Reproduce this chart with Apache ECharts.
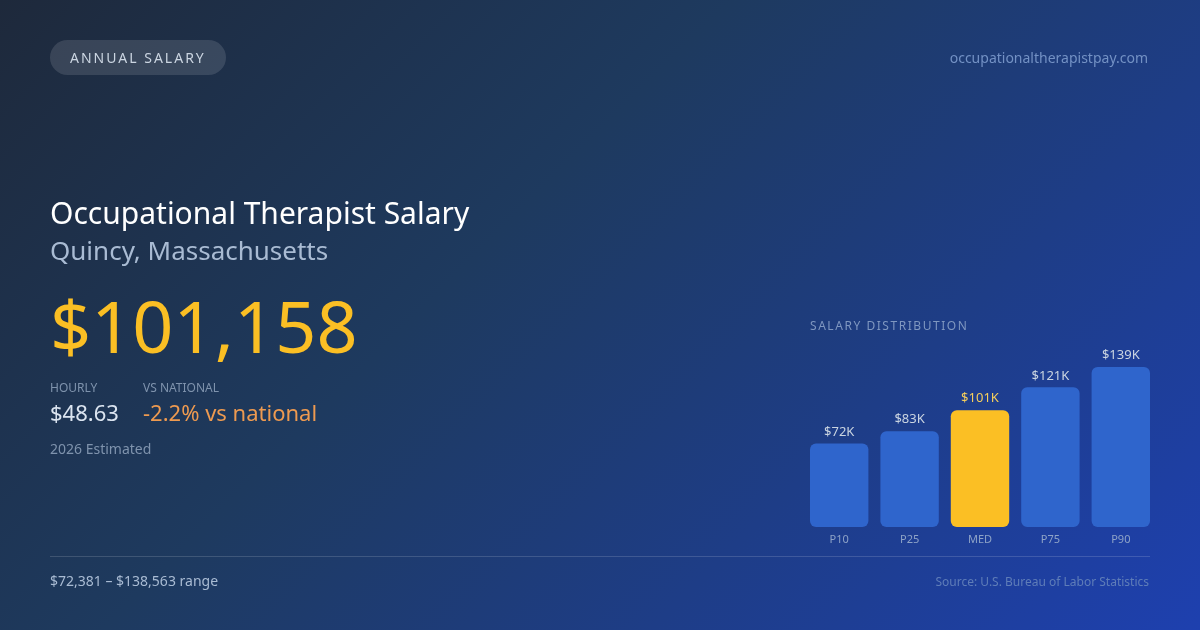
<!DOCTYPE html>
<html>
<head>
<meta charset="utf-8">
<title>Occupational Therapist Salary</title>
<script src="https://cdn.jsdelivr.net/npm/echarts@6/dist/echarts.min.js"></script>
<style>
  html, body { margin: 0; padding: 0; background: #1e3a5f; }
  #card { position: relative; width: 1200px; height: 630px; overflow: hidden; }
  #chart { position: absolute; left: 0; top: 0; width: 1200px; height: 630px; }
  /* canvas text has no letter spacing, so these two stay in the DOM */
  .spaced { position: absolute; font-family: "Noto Sans", sans-serif; white-space: nowrap; }
  #pill-text { left: 70px; top: 48px; font-size: 14px; line-height: 19px; letter-spacing: 2px; color: #cbd5e1; }
  #dist-title { left: 810px; top: 318px; font-size: 12px; line-height: 16px; letter-spacing: 1.55px; color: #7f97c0; }
</style>
</head>
<body>
<div id="card">
  <div id="chart"></div>
  <div id="pill-text" class="spaced">ANNUAL SALARY</div>
  <div id="dist-title" class="spaced">SALARY DISTRIBUTION</div>
</div>
<script>
/* Salary percentiles, in thousands of dollars */
const categories = ['P10', 'P25', 'MED', 'P75', 'P90'];
const salaries = [72.4, 83, 101.2, 121, 138.6];
const medianIndex = 2;

const FONT = '"Noto Sans", sans-serif';

function label(x, y, text, size, color, align) {
  return {
    type: 'text',
    x: x,
    y: y,
    silent: true,
    style: {
      text: text,
      font: size + 'px ' + FONT,
      fill: color,
      align: align || 'left',
      verticalAlign: 'middle'
    }
  };
}

const chart = echarts.init(document.getElementById('chart'));

chart.setOption({
  animation: false,
  // same line as css linear-gradient(135deg) on a 1200x630 box
  backgroundColor: {
    type: 'linear', x: 142.5, y: -142.5, x2: 1057.5, y2: 772.5, global: true,
    colorStops: [
      { offset: 0, color: '#1e293b' },
      { offset: 0.4, color: '#1e3a5f' },
      { offset: 1, color: '#1e40af' }
    ]
  },
  // band is 70.4px so the 58.4px bars leave 12px gaps, bars span 810-1150
  grid: { left: 804, width: 352, top: 367, height: 160 },
  xAxis: {
    type: 'category',
    data: categories,
    axisLine: { show: false },
    axisTick: { show: false },
    axisLabel: { color: '#8ea3c7', fontSize: 11, fontFamily: FONT, margin: 7 }
  },
  yAxis: { type: 'value', min: 0, max: 138.6, show: false },
  series: [{
    type: 'bar',
    barWidth: 58.4,
    data: salaries.map((v, i) => ({
      value: v,
      itemStyle: { color: i === medianIndex ? '#fbbf24' : '#2f65cc', borderRadius: 6 },
      label: { color: i === medianIndex ? '#f6cf5c' : '#cbd5e1' }
    })),
    label: {
      show: true,
      position: 'top',
      distance: 5,
      fontSize: 13,
      fontFamily: FONT,
      formatter: p => '$' + Math.round(p.value) + 'K'
    }
  }],
  graphic: [
    { type: 'rect', silent: true, shape: { x: 50, y: 40, width: 176, height: 35, r: 17.5 }, style: { fill: 'rgba(255,255,255,0.12)' } },
    label(1148, 59, 'occupationaltherapistpay.com', 14, '#7391c4', 'right'),
    label(50, 215, 'Occupational Therapist Salary', 30, '#ffffff'),
    label(50, 253, 'Quincy, Massachusetts', 26, '#a9bbd3'),
    label(50, 332, '$101,158', 72, '#fbbf24'),
    label(50, 389, 'HOURLY', 12, '#7f93ad'),
    label(50, 415, '$48.63', 22, '#dbe4f0'),
    label(143, 389, 'VS NATIONAL', 12, '#7f93ad'),
    label(143, 415, '-2.2% vs national', 22, '#ee9a50'),
    label(50, 450, '2026 Estimated', 14, '#7f93ad'),
    { type: 'rect', silent: true, shape: { x: 50, y: 556, width: 1100, height: 1 }, style: { fill: 'rgba(255,255,255,0.15)' } },
    label(50, 582, '$72,381 – $138,563 range', 14, '#a9bbd3'),
    label(1149, 583, 'Source: U.S. Bureau of Labor Statistics', 12, '#5f7db8', 'right')
  ]
});
</script>
</body>
</html>
